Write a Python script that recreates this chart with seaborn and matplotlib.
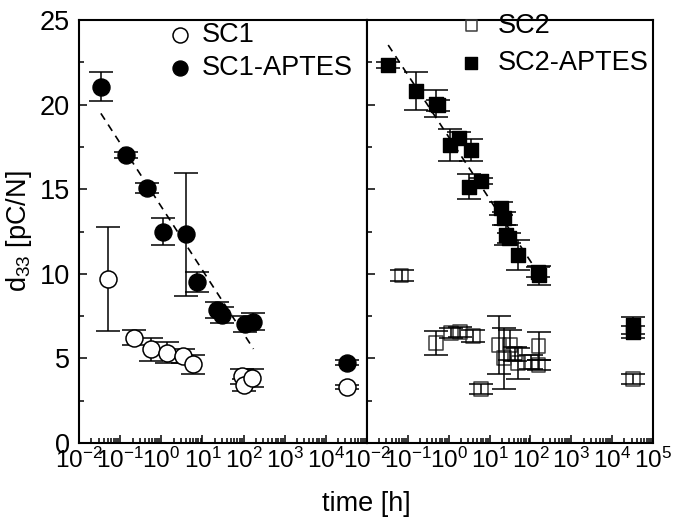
import numpy as np
import pandas as pd
import matplotlib
matplotlib.use("Agg")
import matplotlib.pyplot as plt
import seaborn as sns
from matplotlib.ticker import FixedLocator, LogLocator, NullFormatter, MultipleLocator, FixedFormatter

# ---- data: time [h], d33 [pC/N], error ----
t_sc1 = [0.052, 0.22, 0.57, 1.36, 3.3, 6.0, 90, 105, 160, 32000]
d_sc1 = [9.67, 6.22, 5.54, 5.34, 5.14, 4.65, 3.95, 3.45, 3.85, 3.32]
e_sc1 = [3.08, 0.43, 0.68, 0.6, 0.42, 0.55, 0.45, 0.35, 0.55, 0.12]

t_sc1a = [0.035, 0.137, 0.44, 1.12, 4.0, 7.3, 22, 29.5, 110, 174, 32000]
d_sc1a = [21.05, 17.02, 15.05, 12.49, 12.33, 9.53, 7.86, 7.56, 7.03, 7.17, 4.75]
e_sc1a = [0.85, 0.2, 0.3, 0.78, 3.65, 0.6, 0.5, 0.45, 0.45, 0.5, 0.15]

t_sc2 = [0.07, 0.5, 1.16, 1.86, 3.9, 6.3, 17, 23, 31, 42, 49, 105, 158, 158, 32000]
d_sc2 = [9.9, 5.93, 6.48, 6.58, 6.32, 3.19, 5.79, 5.0, 5.79, 5.26, 4.71, 4.8, 5.73, 4.61, 3.76]
e_sc2 = [0.3, 0.7, 0.3, 0.3, 0.35, 0.3, 1.7, 1.8, 0.9, 0.4, 0.9, 0.4, 0.85, 0.3, 0.3]

t_sc2a = [0.033, 0.16, 0.50, 0.55, 1.06, 1.78, 3.2, 3.6, 6.3, 19, 22, 25, 30, 49, 150, 160, 32000, 32000]
d_sc2a = [22.34, 20.8, 20.05, 19.95, 17.6, 18.0, 15.15, 17.3, 15.5, 13.87, 13.28, 12.3, 12.1, 11.11, 10.1, 9.9, 6.95, 6.55]
e_sc2a = [0.2, 1.1, 0.8, 0.35, 0.95, 0.4, 0.75, 0.66, 0.18, 0.4, 0.4, 0.6, 0.3, 0.9, 0.3, 0.58, 0.5, 0.35]

# linear fits in log(time), given by their end points
fit1_t = [0.034, 174]
fit1_d = [19.48, 5.56]
fit2_t = [0.033, 150]
fit2_d = [23.52, 10.1]

decades = [1e-2, 1e-1, 1e0, 1e1, 1e2, 1e3, 1e4, 1e5]
decade_labels = [r"$10^{-2}$", r"$10^{-1}$", r"$10^{0}$", r"$10^{1}$",
                 r"$10^{2}$", r"$10^{3}$", r"$10^{4}$", r"$10^{5}$"]

sns.set_theme(style="ticks")
plt.rcParams["font.family"] = ["Liberation Sans", "DejaVu Sans"]
plt.rcParams["mathtext.fontset"] = "custom"
plt.rcParams["mathtext.rm"] = "Liberation Sans"
plt.rcParams["mathtext.it"] = "Liberation Sans:italic"
plt.rcParams["mathtext.bf"] = "Liberation Sans:bold"
for key in ("text.color", "axes.labelcolor", "xtick.color", "ytick.color", "axes.edgecolor"):
    plt.rcParams[key] = "black"

FS = 19.5
W, H = 674, 522
fig = plt.figure(figsize=(W / 100, H / 100), dpi=100)
axL = fig.add_axes([79 / W, 79 / H, 288 / W, 423 / H])
axR = fig.add_axes([367 / W, 79 / H, 286 / W, 423 / H])

err_kw = dict(fmt="none", ecolor="black", elinewidth=1.1, capsize=8.3, capthick=1.1)


def draw(ax, t_o, d_o, e_o, t_f, d_f, e_f, ft, fd, marker, ms2, lab_o, lab_f, open_edge, bars_on_top):
    zb = 4 if bars_on_top else 2
    ax.errorbar(t_o, d_o, yerr=e_o, zorder=zb, **err_kw)
    ax.errorbar(t_f, d_f, yerr=e_f, zorder=zb, **err_kw)
    sns.scatterplot(x=t_o, y=d_o, ax=ax, marker=marker, s=ms2, facecolor="white" if not bars_on_top else "none",
                    edgecolor=open_edge, linewidth=1.1, label=lab_o, zorder=3)
    sns.scatterplot(x=t_f, y=d_f, ax=ax, marker=marker, s=ms2, color="black",
                    edgecolor="black", linewidth=1.0, label=lab_f, zorder=3)
    sns.lineplot(x=ft, y=fd, ax=ax, color="black", linewidth=1.2, linestyle=(0, (4.5, 3.5)),
                 zorder=5, legend=False)


draw(axL, t_sc1, d_sc1, e_sc1, t_sc1a, d_sc1a, e_sc1a, fit1_t, fit1_d, "o", 150,
     "SC1", "SC1-APTES", "black", False)
draw(axR, t_sc2, d_sc2, e_sc2, t_sc2a, d_sc2a, e_sc2a, fit2_t, fit2_d, "s", 100,
     "SC2", "SC2-APTES", "#3c3c3c", True)

for ax, labels in ((axL, decade_labels[:-1] + [""]), (axR, decade_labels)):
    ax.set_xscale("log")
    ax.set_xlim(1e-2, 1e5)
    ax.set_ylim(0, 25)
    ax.xaxis.set_major_locator(FixedLocator(decades))
    ax.xaxis.set_major_formatter(FixedFormatter(labels))
    ax.xaxis.set_minor_locator(LogLocator(base=10, subs=np.arange(2, 10), numticks=20))
    ax.xaxis.set_minor_formatter(NullFormatter())
    ax.yaxis.set_major_locator(MultipleLocator(5))
    ax.yaxis.set_minor_locator(MultipleLocator(2.5))
    ax.tick_params(which="both", direction="in", top=False, right=False, width=1.1,
                   colors="black")
    ax.tick_params(axis="y", labelsize=FS, pad=6.5)
    ax.tick_params(axis="x", labelsize=17.5, pad=3.5)
    ax.tick_params(which="major", length=6)
    ax.tick_params(which="minor", length=3.5)
    for sp in ax.spines.values():
        sp.set_linewidth(1.5)
        sp.set_color("black")
    ax.set_xlabel("")
    ax.set_ylabel("")

axR.tick_params(axis="y", labelleft=False)
axL.set_ylabel(r"d$_{33}$ [pC/N]", fontsize=FS, labelpad=4)
fig.text(366 / W, 1 - 504 / H, "time [h]", fontsize=FS, ha="center", va="center")

legL = axL.legend(loc="upper left", bbox_to_anchor=(0.313, 0.995), frameon=False, fontsize=FS,
                  handlelength=0.8, handletextpad=0.4, labelspacing=0.26, borderpad=0,
                  borderaxespad=0, markerscale=0.88)
legR = axR.legend(loc="upper left", bbox_to_anchor=(0.326, 1.017), frameon=False, fontsize=FS,
                  handlelength=0.8, handletextpad=0.6, labelspacing=0.4, borderpad=0,
                  borderaxespad=0, markerscale=0.8)
for leg in (legL, legR):
    leg.set_zorder(10)

fig.savefig("out.png", dpi=100)
